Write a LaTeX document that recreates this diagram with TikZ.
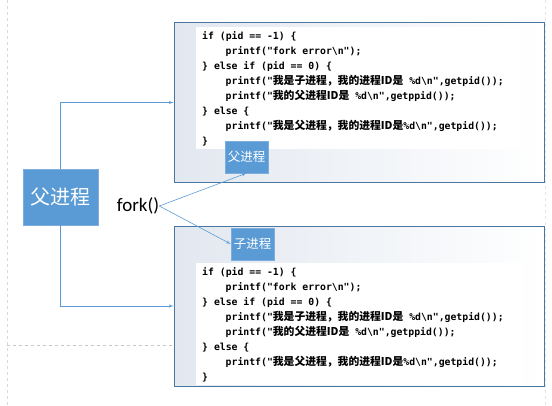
\documentclass[tikz,border=0pt]{standalone}
\usepackage{fontspec}
\setmainfont{Carlito}
\newfontfamily\cjk{Noto Sans CJK SC}
\newfontfamily\mono{DejaVu Sans Mono}
\usetikzlibrary{arrows, positioning}
\definecolor{boxblue}{RGB}{91,155,213}
\definecolor{lineblue}{RGB}{74,118,160}
\definecolor{shadeblue}{RGB}{226,232,240}

\newcommand{\zh}[1]{{\cjk\fontsize{10.8}{15}\selectfont #1}}
\newcommand{\codeind}{\hspace*{2.4em}}
\newcommand{\forkcode}{%
if (pid == -1) \{\\
\codeind printf("fork error\textbackslash n");\\
\} else if (pid == 0) \{\\
\codeind printf("\zh{我是子进程，我的进程ID是} \%d\textbackslash n",getpid());\\
\codeind printf("\zh{我的父进程ID是} \%d\textbackslash n",getppid());\\
\} else \{\\
\codeind printf("\zh{我是父进程，我的进程ID是}\%d\textbackslash n",getpid());\\
\}}

\begin{document}
\begin{tikzpicture}[>=latex', x=1pt, y=-1pt,
  tagbox/.style={draw={rgb,255:red,125;green,172;blue,222}, fill=boxblue,
    text=white, font=\cjk\fontsize{12.5}{14}\selectfont, inner sep=0,
    minimum width=43pt, minimum height=32pt},
  codebox/.style={draw=lineblue, line width=0.8pt, left color=shadeblue,
    right color=white, minimum width=370pt, minimum height=160pt, inner sep=0},
  codetext/.style={font=\mono\bfseries\fontsize{9.8}{15}\selectfont,
    align=left, inner sep=0, anchor=north west},
  flow/.style={->, draw=boxblue, line width=0.6pt}]
\useasboundingbox (0,0) rectangle (552,405);
% guide lines
\draw[gray!30, dashed] (7,0) -- (7,405);
\draw[gray!20, dashed] (545,0) -- (545,405);
\draw[gray!45, dashed, line width=0.8pt] (7,345) -- (174,345);

% code boxes
\node[codebox] at (359,102.5) (pbox) {};
\node[codebox] at (359,306) (cbox) {};
\fill[white] (196,27) rectangle (520,149);
\fill[white] (196,263) rectangle (522,384.5);
\node[codetext] at (202,31.5) (pcode) {\forkcode};
\node[codetext] at (202,267.5) (ccode) {\forkcode};

\node[tagbox] at (246.5,157) (ptag) {父进程};
\node[tagbox] at (252.5,244) (ctag) {子进程};
\node[tagbox, minimum width=75pt, minimum height=56pt,
  font=\cjk\fontsize{20}{24}\selectfont] at (60.5,197) (parent) {父进程};
\node[font=\fontsize{19}{22}\selectfont, inner sep=0] at (138,206) (fork) {fork()};

\draw[flow] (parent.north) |- (pbox.west);
\draw[flow] (parent.south) |- (cbox.west);
\draw[flow] (fork.east) -- (ptag.south);
\draw[flow] (fork.east) -- (ctag.west);
\end{tikzpicture}
\end{document}
